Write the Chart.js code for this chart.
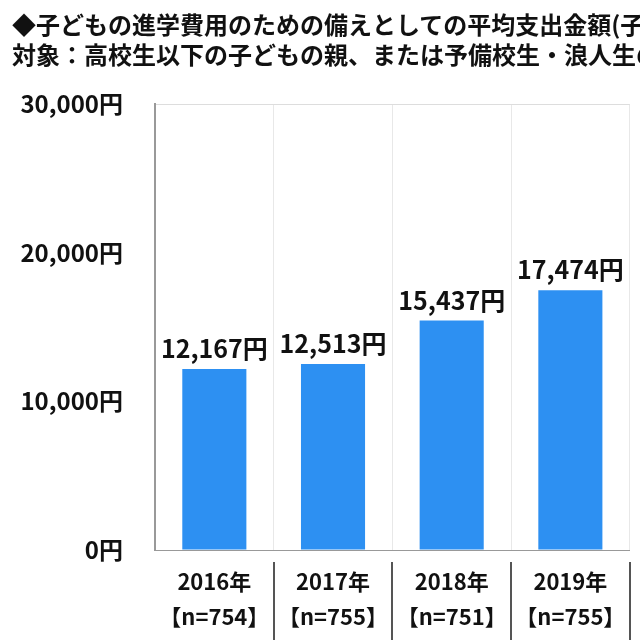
<!DOCTYPE html>
<html>
<head>
<meta charset="utf-8">
<script src="https://cdn.jsdelivr.net/npm/chart.js@4"></script>
<style>
  body { margin: 0; background: #fff; overflow: hidden; }
  #wrap { position: relative; width: 640px; height: 640px; }
  #chart1 { position: absolute; left: 0; top: 0; }
  .ttl {
    position: absolute; left: 12px; width: 628px; overflow: hidden; white-space: nowrap;
    font-family: "Noto Sans CJK JP", sans-serif; font-weight: bold; font-size: 24px; color: #111;
  }
</style>
</head>
<body>
<div id="wrap">
  <canvas id="chart1" width="640" height="640"></canvas>
  <div class="ttl" style="top:6px">◆子どもの進学費用のための備えとしての平均支出金額(子ども1人あたり)</div>
  <div class="ttl" style="top:36px">対象：高校生以下の子どもの親、または予備校生・浪人生の親</div>
</div>
<script>
console.log("started");

var years = ["2016年", "2017年", "2018年", "2019年"];
var samples = ["【n=754】", "【n=755】", "【n=751】", "【n=755】"];
var amounts = [12167, 12513, 15437, 17474];
var yTicks = [0, 10000, 20000, 30000];

var font = "'Noto Sans CJK JP', sans-serif";

function yen(v) {
	return v.toLocaleString('en-US') + '円';
}

var labels = years.map(function(y, i) { return [y, samples[i]]; });

// value labels above the bars
var barLabels = {
	id: 'barLabels',
	afterDatasetsDraw: function(chart) {
		var ctx = chart.ctx;
		var meta = chart.getDatasetMeta(0);
		ctx.save();
		ctx.font = "bold 25px " + font;
		ctx.fillStyle = '#111';
		ctx.textAlign = 'center';
		ctx.textBaseline = 'bottom';
		meta.data.forEach(function(bar, i) {
			ctx.fillText(yen(amounts[i]), bar.x, bar.y - 8);
		});
		ctx.restore();
	}
};

// dark separators between the category labels
var separators = {
	id: 'separators',
	afterDraw: function(chart) {
		var xs = chart.scales.x;
		var half = (xs.getPixelForValue(1) - xs.getPixelForValue(0)) / 2;
		var ctx = chart.ctx;
		ctx.save();
		ctx.strokeStyle = '#555';
		ctx.lineWidth = 2;
		for (var i = 0; i < years.length; i++) {
			var x = Math.round(xs.getPixelForValue(i) + half);
			ctx.beginPath();
			ctx.moveTo(x, xs.top + 12);
			ctx.lineTo(x, chart.height);
			ctx.stroke();
		}
		ctx.restore();
	}
};

new Chart(document.getElementById("chart1"), {
	type: 'bar',
	data: {
		labels: labels,
		datasets: [
			{
				label: "平均支出金額",
				backgroundColor: "#2d90f2",
				data: amounts,
				barPercentage: 0.54,
				categoryPercentage: 1
			}
		]
	},
	options: {
		responsive: false,
		animation: false,
		layout: { padding: { top: 104, right: 5, left: 0, bottom: 0 } },
		plugins: {
			legend: { display: false },
			title: { display: false },
			tooltip: { enabled: false }
		},
		scales: {
			x: {
				offset: true,
				grid: { offset: true, color: '#e8e8e8', drawTicks: false },
				border: { color: '#999', width: 1 },
				ticks: {
					color: '#111',
					padding: 14,
					font: { family: font, weight: 'bold', size: 22, lineHeight: 1.6 }
				},
				afterFit: function(scale) { scale.height = 90; }
			},
			y: {
				min: 0,
				max: 30000,
				afterBuildTicks: function(scale) {
					scale.ticks = yTicks.map(function(v) { return { value: v }; });
				},
				grid: {
					drawTicks: false,
					color: function(c) { return c.tick && c.tick.value === 30000 ? '#dddddd' : 'rgba(0,0,0,0)'; }
				},
				border: { color: '#999', width: 2 },
				ticks: {
					color: '#111',
					padding: 32,
					font: { family: font, weight: 'bold', size: 24 },
					callback: function(v) { return yen(v); }
				},
				afterFit: function(scale) { scale.width = 155; }
			}
		}
	},
	plugins: [barLabels, separators]
});
</script>
</body>
</html>
